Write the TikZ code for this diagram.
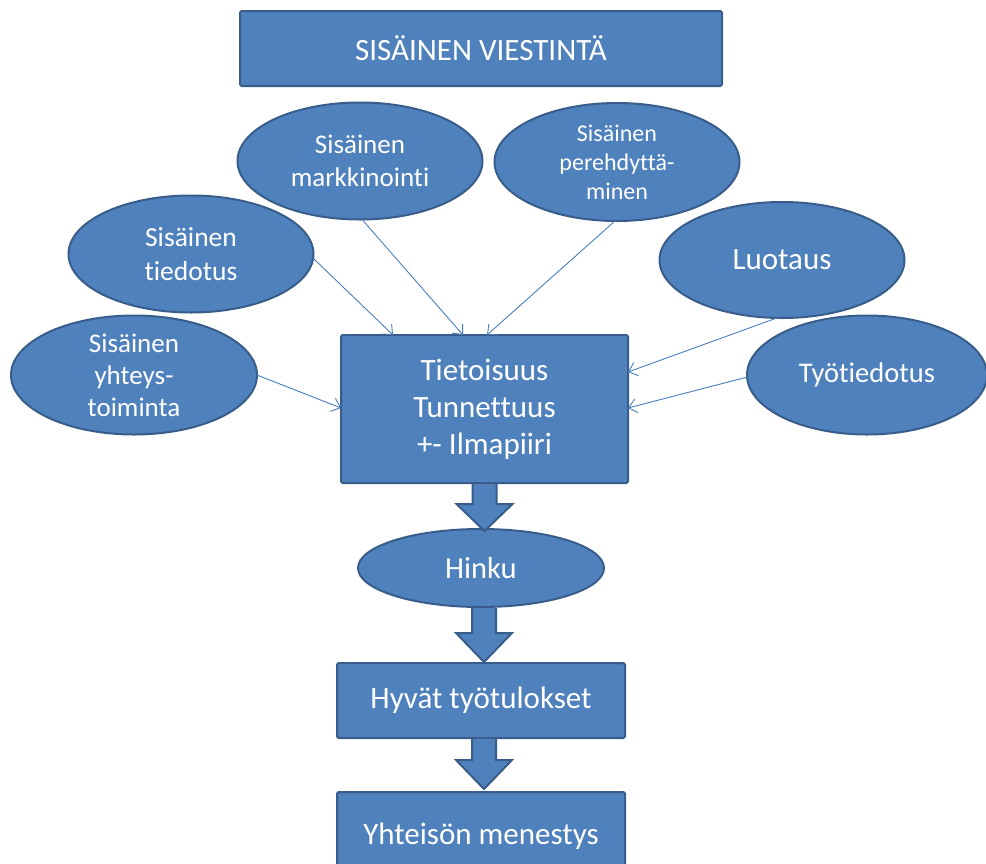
\documentclass[tikz,border=0pt]{standalone}
\usepackage{fontspec}
\setmainfont{Carlito}[Ligatures=NoCommon]
\usetikzlibrary{shapes.geometric,arrows.meta}
\definecolor{boxfill}{HTML}{4F81BD}
\definecolor{boxline}{HTML}{385D8A}
\definecolor{linkblue}{HTML}{4A7EBB}
\begin{document}
\begin{tikzpicture}[x=1pt,y=-1pt,
  shapebase/.style={fill=boxfill,draw=boxline,line width=2pt,text=white,
    inner sep=0pt,outer sep=0pt,align=center},
  card/.style={shapebase,rectangle,rounded corners=1.5pt},
  bubble/.style={shapebase,ellipse},
  fs/.style 2 args={font=\fontsize{#1}{#2}\selectfont},
  link/.style={draw=linkblue,line width=0.9pt,
    -{Straight Barb[length=8pt,width=14pt]}},
  bigarrow/.style={fill=boxfill,draw=boxline,line width=2pt,line join=miter}
]
\clip (0,0) rectangle (986,863);

% title
\node[card,minimum width=482,minimum height=75,fs={31}{36}] (title) at (481,48.5)
  {SISÄINEN VIESTINTÄ};

% sources of internal communication
\node[bubble,minimum width=245,minimum height=117,fs={27}{33}] (markk) at (360,161)
  {Sisäinen\\markkinointi};
\node[bubble,minimum width=245,minimum height=118,fs={24}{29}] (pereh) at (617,162)
  {Sisäinen\\perehdyttä-\\minen};
\node[bubble,minimum width=245,minimum height=117,fs={27.5}{34}] (tied) at (191,254)
  {Sisäinen\\tiedotus};
\node[bubble,minimum width=246,minimum height=119,fs={27}{32}] (yhte) at (134,375)
  {Sisäinen\\yhteys-\\toiminta};
\node[bubble,minimum width=245,minimum height=116,fs={31}{36}] (luot) at (782,260)
  {Luotaus};
\node[bubble,minimum width=240,minimum height=119,fs={28.5}{34}] (tyot) at (867,375)
  {Työtiedotus};

% central chain
\node[card,minimum width=287,minimum height=148,fs={31}{37}] (mid) at (484.5,409)
  {Tietoisuus\\Tunnettuus\\+- Ilmapiiri};
\node[bubble,minimum width=246,minimum height=78,fs={30.5}{35}] (hinku) at (481,568)
  {Hinku};
\node[card,minimum width=288,minimum height=75,fs={31}{35}] (hyvat) at (481,700.5)
  {Hyvät työtulokset};
\node[card,minimum width=288,minimum height=88,fs={31}{35}] (yhteiso) at (481,836)
  {Yhteisön menestys};

% thin connectors into the central box
\draw[link] (tied.-2) -- ([xshift=52pt]mid.north west);
\draw[link] (markk.-88) -- ([xshift=122pt]mid.north west);
\draw[link] (pereh.-92) -- ([xshift=146pt]mid.north west);
\draw[link] (luot.-95) -- ([yshift=-37pt]mid.north east);
\draw[link] (tyot.181) -- ([yshift=-73pt]mid.north east);
\draw[link] (yhte.0) -- ([yshift=-73pt]mid.north west);

% block arrows down the chain
\draw[bigarrow] ([xshift=-12pt,yshift=-1pt]mid.south) -- ++(0,20) -- ++(-16,0)
  -- ++(28,27) -- ++(28,-27) -- ++(-16,0) -- ++(0,-20);
\draw[bigarrow] ([xshift=-9pt,yshift=-1pt]hinku.south) -- ++(0,25) -- ++(-16,0)
  -- ++(28,29) -- ++(28,-29) -- ++(-16,0) -- ++(0,-25);
\draw[bigarrow] ([xshift=-9pt,yshift=-1pt]hyvat.south) -- ++(0,21) -- ++(-16,0)
  -- ++(28,29) -- ++(28,-29) -- ++(-16,0) -- ++(0,-21);
\end{tikzpicture}
\end{document}
